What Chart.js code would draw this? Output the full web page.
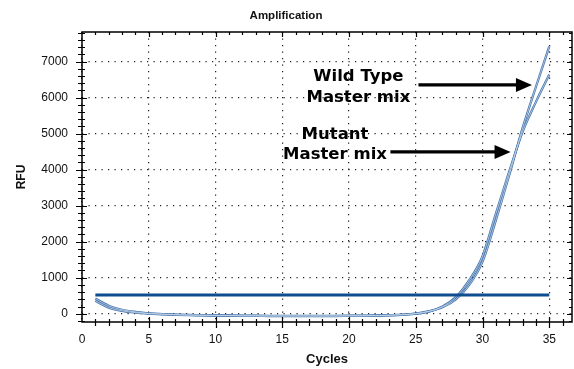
<!DOCTYPE html>
<html>
<head>
<meta charset="utf-8">
<script src="https://cdn.jsdelivr.net/npm/chart.js@4/dist/chart.umd.min.js"></script>
<style>
  body { margin: 0; background: #fff; }
  canvas { display: block; }
</style>
</head>
<body>
<canvas id="ampChart" width="574" height="369"></canvas>
<script>
// data
const cycles = [1, 2, 3, 4, 5, 6, 7, 8, 9, 10, 11, 12, 13, 14, 15, 16, 17, 18,
  19, 20, 21, 22, 23, 24, 25, 26, 27, 28, 29, 30, 31, 32, 33, 34, 35];
const wildTypeRfu = [420, 220, 110, 50, 10, -10, -25, -35, -40, -45, -50, -55, -55,
  -60, -60, -60, -60, -60, -60, -55, -55, -50, -40, -25, 5, 70, 180, 400, 800,
  1450, 2600, 3850, 5150, 6300, 7420];
const mutantRfu = [360, 170, 80, 30, 0, -15, -30, -40, -45, -50, -55, -60, -60,
  -65, -65, -65, -65, -65, -65, -60, -60, -55, -45, -30, 0, 60, 200, 460, 930,
  1600, 2780, 3950, 5050, 5880, 6640];
const thresholdRfu = 520;
const thresholdCycles = [1, 35];
const xTickValues = [0, 5, 10, 15, 20, 25, 30, 35];
const yTickValues = [0, 1000, 2000, 3000, 4000, 5000, 6000, 7000];

// annotation texts (positions in chart units)
const notes = [
  { lines: ['Wild Type', 'Master mix'], x: 20.7, y: [6575, 5990], arrow: [25.2, 33.7, 6350] },
  { lines: ['Mutant', 'Master mix'], x: 18.95, y: [4964, 4408], arrow: [23.1, 32.1, 4490] }
];

function points(values) {
  return cycles.map((c, i) => ({ x: c, y: values[i] }));
}

const outerColor = '#4273ad';
const innerColor = '#c9d8ea';

// Plugin that draws the frame, the minor/major ticks and the notes
const framePlugin = {
  id: 'frame',
  afterDraw(chart) {
    const ctx = chart.ctx;
    const area = chart.chartArea;
    const xs = chart.scales.x;
    const ys = chart.scales.y;
    ctx.save();
    ctx.strokeStyle = '#000';
    ctx.lineWidth = 1.5;
    ctx.strokeRect(area.left, area.top, area.right - area.left, area.bottom - area.top);

    ctx.lineWidth = 1.2;
    ctx.beginPath();
    for (let c = 1; c <= 36; c++) {
      const px = Math.round(xs.getPixelForValue(c)) + 0.5;
      const major = c % 5 === 0;
      ctx.moveTo(px, area.bottom - (major ? 5 : 3));
      ctx.lineTo(px, area.bottom + (major ? 6 : 4));
      ctx.moveTo(px, area.top);
      ctx.lineTo(px, area.top + (major ? 5 : 3));
    }
    for (let v = -200; v <= 7800; v += 200) {
      const py = Math.round(ys.getPixelForValue(v)) + 0.5;
      const major = v % 1000 === 0;
      ctx.moveTo(area.left - (major ? 6 : 4), py);
      ctx.lineTo(area.left + (major ? 5 : 3), py);
      ctx.moveTo(area.right, py);
      ctx.lineTo(area.right - (major ? 5 : 3), py);
    }
    ctx.stroke();

    // notes with arrows
    ctx.fillStyle = '#000';
    ctx.strokeStyle = '#000';
    ctx.font = 'bold 16.5px "DejaVu Sans"';
    ctx.textAlign = 'center';
    ctx.textBaseline = 'middle';
    notes.forEach(n => {
      const tx = xs.getPixelForValue(n.x);
      n.lines.forEach((t, i) => ctx.fillText(t, tx, ys.getPixelForValue(n.y[i])));
      const x0 = xs.getPixelForValue(n.arrow[0]);
      const x1 = xs.getPixelForValue(n.arrow[1]);
      const ay = ys.getPixelForValue(n.arrow[2]);
      ctx.lineWidth = 3.3;
      ctx.beginPath();
      ctx.moveTo(x0, ay);
      ctx.lineTo(x1 - 14, ay);
      ctx.stroke();
      ctx.beginPath();
      ctx.moveTo(x1, ay);
      ctx.lineTo(x1 - 16, ay - 7);
      ctx.lineTo(x1 - 16, ay + 7);
      ctx.closePath();
      ctx.fill();
    });
    ctx.restore();
  }
};

const tickFont = { family: '"Liberation Sans", Arial, sans-serif', size: 12 };

const chartConfig = {
  type: 'line',
  data: {
    datasets: [
      {
        label: 'Threshold',
        data: thresholdCycles.map(c => ({ x: c, y: thresholdRfu })),
        borderColor: '#0e4d8e',
        borderWidth: 3,
        pointRadius: 0,
        order: 0
      },
      {
        label: 'Wild Type inner',
        data: points(wildTypeRfu),
        borderColor: innerColor,
        borderWidth: 0.8,
        pointRadius: 0,
        cubicInterpolationMode: 'monotone',
        order: 1
      },
      {
        label: 'Mutant inner',
        data: points(mutantRfu),
        borderColor: innerColor,
        borderWidth: 0.8,
        pointRadius: 0,
        cubicInterpolationMode: 'monotone',
        order: 1
      },
      {
        label: 'Wild Type',
        data: points(wildTypeRfu),
        borderColor: outerColor,
        borderWidth: 2.3,
        pointRadius: 0,
        cubicInterpolationMode: 'monotone',
        order: 2
      },
      {
        label: 'Mutant',
        data: points(mutantRfu),
        borderColor: outerColor,
        borderWidth: 2.3,
        pointRadius: 0,
        cubicInterpolationMode: 'monotone',
        order: 2
      }
    ]
  },
  options: {
    responsive: false,
    animation: false,
    layout: { padding: { left: 0, right: 2, top: 0, bottom: 0 } },
    plugins: {
      legend: { display: false },
      tooltip: { enabled: false },
      title: {
        display: true,
        text: 'Amplification',
        color: '#111',
        font: { family: '"Liberation Sans", Arial, sans-serif', size: 11.5, weight: 'bold' },
        padding: { top: 9, bottom: 9.2 }
      }
    },
    scales: {
      x: {
        type: 'linear',
        min: 0,
        max: 36.7,
        afterBuildTicks: scale => { scale.ticks = xTickValues.map(v => ({ value: v })); },
        afterFit: scale => { scale.height = 47; },
        ticks: { font: tickFont, color: '#111', padding: 10, maxRotation: 0, callback: v => String(v) },
        grid: { color: '#222', lineWidth: 1.2, drawTicks: false },
        border: { display: false, dash: [1.2, 5.3] },
        title: {
          display: true,
          text: 'Cycles',
          color: '#111',
          font: { family: '"Liberation Sans", Arial, sans-serif', size: 13, weight: 'bold' },
          padding: { top: 0, bottom: 2 }
        }
      },
      y: {
        type: 'linear',
        min: -230,
        max: 7820,
        afterBuildTicks: scale => { scale.ticks = yTickValues.map(v => ({ value: v })); },
        afterFit: scale => { scale.width = 82; },
        ticks: { font: tickFont, color: '#111', padding: 14, callback: v => String(v) },
        grid: { color: '#222', lineWidth: 1.2, drawTicks: false },
        border: { display: false, dash: [1.2, 5.3] },
        title: {
          display: true,
          text: 'RFU',
          color: '#111',
          font: { family: '"Liberation Sans", Arial, sans-serif', size: 12, weight: 'bold' },
          padding: { top: 14, bottom: 0 }
        }
      }
    }
  },
  plugins: [framePlugin]
};

const ctx = document.getElementById('ampChart').getContext('2d');
const ampChart = new Chart(ctx, chartConfig);
</script>
</body>
</html>
